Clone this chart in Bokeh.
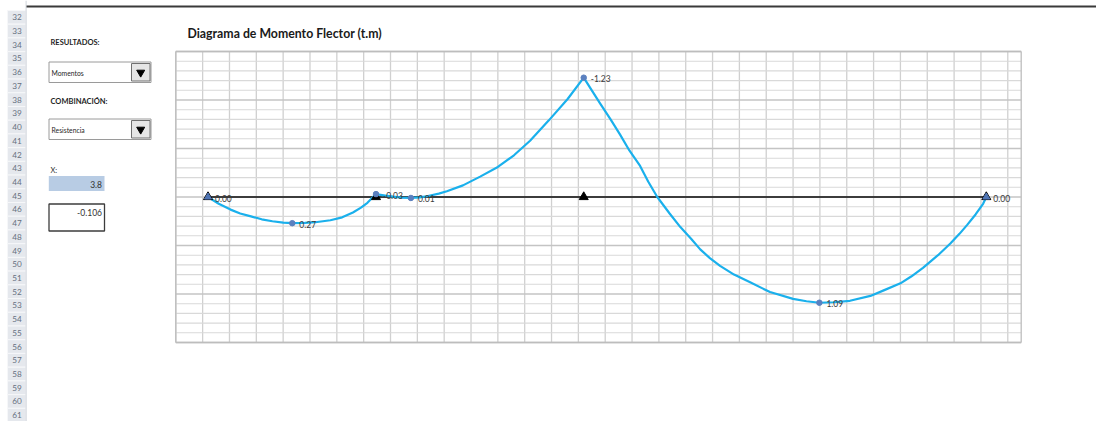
import numpy as np
from bokeh.plotting import figure
from bokeh.models import Range1d
from bokeh.core.properties import value
from bokeh.embed import file_html
from bokeh.resources import INLINE

# ---------------- data ----------------
title_text = "Diagrama de Momento Flector (t.m)"
# bending moment curve: x in m, M in t.m
x_curve = [0.0, 0.2, 0.42, 0.6, 0.8, 1.0, 1.2, 1.4, 1.57, 1.8, 2.0, 2.28, 2.5, 2.7, 2.85, 2.97, 3.13,
           3.3, 3.45, 3.6, 3.78, 3.95, 4.1, 4.3, 4.45, 4.75, 5.07, 5.4, 5.7, 6.0, 6.35, 6.7, 7.0,
           7.15, 7.31, 7.5, 7.68, 7.85, 8.05, 8.2, 8.37, 8.6, 8.8, 9.0, 9.17, 9.35, 9.54, 9.8, 10.1,
           10.47, 10.9, 11.15, 11.39, 11.65, 11.96, 12.34, 12.6, 12.9, 13.1, 13.32, 13.6, 13.83,
           14.0, 14.14, 14.3, 14.44, 14.5]
m_curve = [0.0, 0.07, 0.13, 0.17, 0.20, 0.23, 0.25, 0.265, 0.27, 0.267, 0.26, 0.24, 0.21, 0.16, 0.11, 0.06, -0.03,
           -0.015, -0.003, 0.006, 0.01, 0.003, -0.01, -0.035, -0.06, -0.12, -0.21, -0.31, -0.43, -0.58, -0.79, -1.01, -1.23,
           -1.10, -0.96, -0.80, -0.64, -0.48, -0.32, -0.16, 0.0, 0.17, 0.31, 0.43, 0.54, 0.63, 0.71, 0.80, 0.88,
           0.98, 1.05, 1.075, 1.09, 1.085, 1.07, 1.02, 0.96, 0.89, 0.82, 0.73, 0.60, 0.48,
           0.38, 0.29, 0.18, 0.07, 0.0]
# labelled points
label_x = [0.0, 1.57, 3.13, 3.78, 7.0, 11.39, 14.5]
label_m = [0.00, 0.27, -0.03, 0.01, -1.23, 1.09, 0.00]
# supports
support_x = [0.0, 3.13, 7.0, 14.5]
# spreadsheet side panel
row_numbers = list(range(32, 62))
resultados_label = "RESULTADOS:"
resultados_value = "Momentos"
combinacion_label = "COMBINACIÓN:"
combinacion_value = "Resistencia"
x_label = "X:"
x_query = "3.8"
m_query = "-0.106"

# axis settings of the chart
X_MIN, X_MAX, X_STEP = -0.6, 15.15, 0.5
Y_MIN, Y_MAX, Y_MINOR, Y_MAJOR = -1.5, 1.5, 0.1, 0.5

# ---------------- layout (picture pixels) ----------------
W, H, OFF = 1096, 421, 0
PA_LEFT, PA_RIGHT, PA_TOP, PA_BOTTOM = 175.3, 1020.7, 51.0, 342.0

sx = (PA_RIGHT - PA_LEFT) / (X_MAX - X_MIN)
sy = (PA_BOTTOM - PA_TOP) / (Y_MAX - Y_MIN)
x_start = X_MIN - (PA_LEFT - OFF) / sx
x_end = X_MAX + (OFF + W - PA_RIGHT) / sx
y_top = Y_MIN - (PA_TOP - OFF) / sy
y_bottom = Y_MAX + (OFF + H - PA_BOTTOM) / sy

p = figure(width=W, height=H, x_range=Range1d(x_start, x_end),
           y_range=Range1d(start=y_bottom, end=y_top),
           x_axis_type=None, y_axis_type=None, min_border=0,
           toolbar_location=None, output_backend="svg")
p.outline_line_color = None
p.background_fill_color = "white"
p.border_fill_color = "white"
p.extra_x_ranges = {"px": Range1d(OFF, OFF + W)}
p.extra_y_ranges = {"px": Range1d(start=OFF + H, end=OFF)}
PX = dict(x_range_name="px", y_range_name="px")

FONT = value("Lato")

# ---------------- gridlines ----------------
vx = np.round(np.arange(X_MIN, X_MAX, X_STEP), 4)
p.segment(x0=vx, y0=Y_MIN, x1=vx, y1=Y_MAX, line_color="#d0d0d0", line_width=1.3)
hy = np.round(np.arange(Y_MIN, Y_MAX + 1e-9, Y_MINOR), 4)
is_major = np.isclose(np.round(hy / Y_MAJOR) * Y_MAJOR, hy)
p.segment(x0=X_MIN, y0=hy[~is_major], x1=X_MAX, y1=hy[~is_major],
          line_color="#d9d9d9", line_width=1.1)
p.segment(x0=X_MIN, y0=hy[is_major], x1=X_MAX, y1=hy[is_major],
          line_color="#c4c4c4", line_width=1.6)
# plot-area border
p.segment(x0=[X_MIN, X_MAX, X_MIN, X_MIN], y0=[Y_MIN, Y_MIN, Y_MIN, Y_MAX],
          x1=[X_MIN, X_MAX, X_MAX, X_MAX], y1=[Y_MAX, Y_MAX, Y_MIN, Y_MAX],
          line_color="#bdbdbd", line_width=1.3)

# ---------------- beam, curve, markers ----------------
p.segment(x0=support_x[0], y0=0, x1=support_x[-1], y1=0, line_color="#3c3c3c", line_width=2)
p.line(x_curve, m_curve, line_color="#1ab0ec", line_width=2.2, line_join="round")
p.scatter(support_x, [0] * len(support_x), marker="triangle", size=9, color="black")
p.scatter(label_x[1:-1], label_m[1:-1], marker="circle", size=5.5, color="#5b80bf")
p.scatter([label_x[0], label_x[-1]], [label_m[0], label_m[-1]], marker="triangle",
          size=7, color="#4f75b5")
p.text(label_x, label_m, text=[f"{v:.2f}" for v in label_m], x_offset=7, y_offset=1,
       text_baseline="middle", text_align="left", text_font=FONT,
       text_font_size="8.5px", text_color="#3a3a3a")

# title
p.text([187], [33], text=[title_text], text_font=FONT, text_font_style="bold",
       text_font_size="12.3px", text_baseline="middle", text_color="#1a1a1a", **PX)

# ---------------- spreadsheet decorations ----------------
p.segment(x0=25.5, y0=6, x1=OFF + W, y1=6, line_color="#3a3a3a", line_width=2, **PX)
ROW0, PITCH = 16.8, 13.72
rc = [ROW0 + (r - row_numbers[0]) * PITCH for r in row_numbers]
p.quad(left=7, right=25.5, top=[max(c - PITCH / 2, OFF) for c in rc],
       bottom=[c + PITCH / 2 for c in rc], fill_color="#e5e8ed",
       line_color="#f6f7f9", line_width=1, **PX)
p.segment(x0=25.6, y0=OFF, x1=25.6, y1=OFF + H, line_color="#cfd4db", line_width=1, **PX)
p.text([16.5] * len(rc), rc, text=[str(r) for r in row_numbers], text_align="center",
       text_baseline="middle", text_font=FONT, text_font_size="8.2px",
       text_color="#66707f", **PX)

# headings
p.text([50, 50], [42, 101], text=[resultados_label, combinacion_label],
       text_font=FONT, text_font_style="bold", text_font_size="7.5px",
       text_baseline="middle", text_color="#1f1f1f", **PX)
# dropdowns
for top, txt in [(61.5, resultados_value), (118.5, combinacion_value)]:
    p.quad(left=[48.5], right=[150.5], top=[top], bottom=[top + 20.5],
           fill_color="white", line_color="#9a9a9a", line_width=1, **PX)
    p.quad(left=[131], right=[149.5], top=[top + 1.5], bottom=[top + 19],
           fill_color="#e6e6e6", line_color="#707070", line_width=1, **PX)
    p.scatter([140.2], [top + 10.5], marker="inverted_triangle", size=8,
              color="black", **PX)
    p.text([51], [top + 10.5], text=[txt], text_font=FONT, text_font_size="6.8px",
           text_baseline="middle", text_color="#1f1f1f", **PX)

p.text([50], [169.5], text=[x_label], text_font=FONT, text_font_size="7.5px",
       text_baseline="middle", text_color="#333333", **PX)
p.quad(left=[48.3], right=[104], top=[175.5], bottom=[190.5], fill_color="#b8cce4",
       line_color=None, **PX)
p.text([101.5], [183.5], text=[x_query], text_font=FONT, text_font_size="8.5px",
       text_align="right", text_baseline="middle", text_color="#333333", **PX)
p.quad(left=[48.5], right=[104], top=[203.5], bottom=[230.5], fill_color="white",
       line_color="#3c3c3c", line_width=1.3, **PX)
p.text([101.5], [211.5], text=[m_query], text_font=FONT, text_font_size="8.5px",
       text_align="right", text_baseline="middle", text_color="#333333", **PX)

open("out.html", "w").write(file_html(p, INLINE))
